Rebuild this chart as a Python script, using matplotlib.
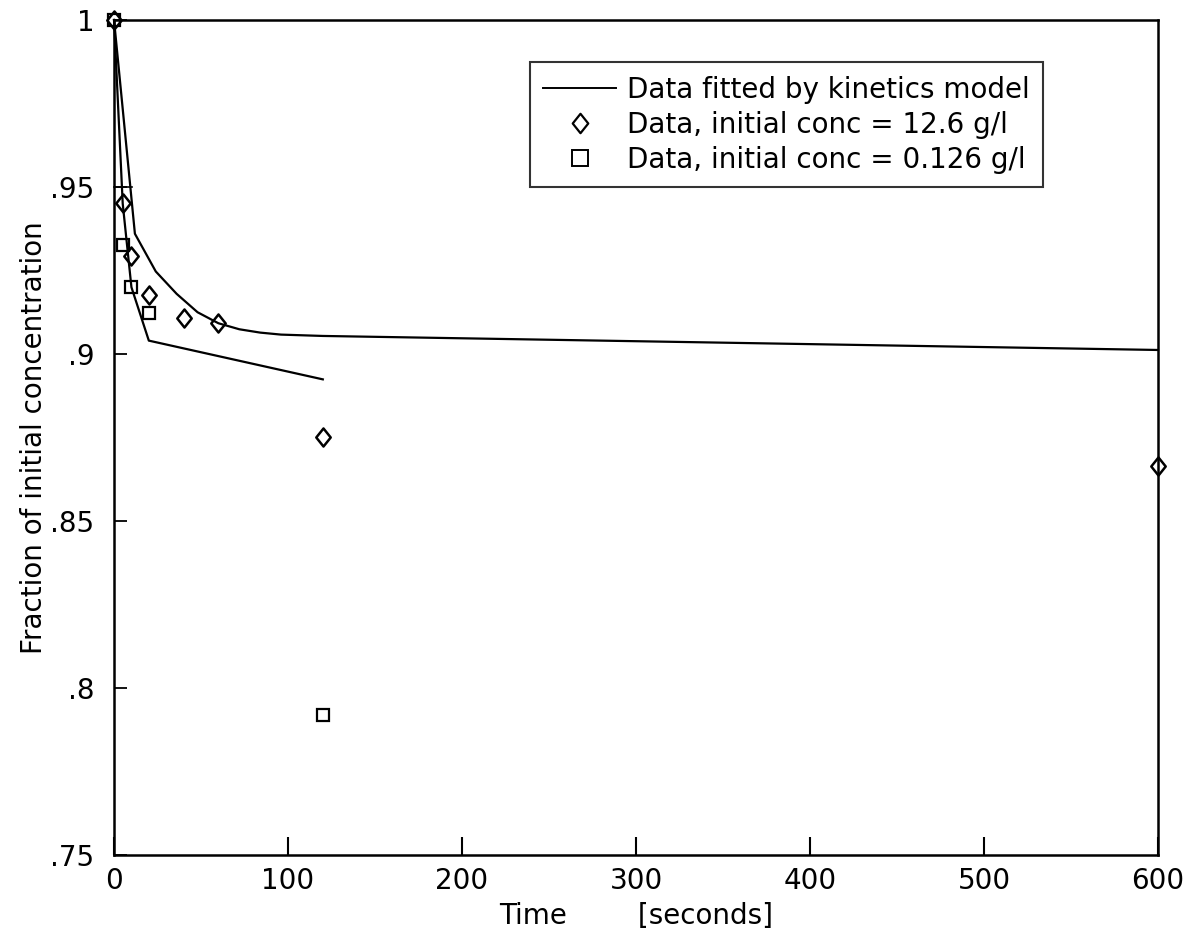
import matplotlib
matplotlib.use("Agg")
import matplotlib.pyplot as plt
from matplotlib.lines import Line2D
from matplotlib.path import Path

# ---- data ----
fit_hi_t = [0, 12, 24, 36, 48, 60, 72, 84, 96, 120, 600]
fit_hi_y = [1.0, 0.936, 0.9247, 0.918, 0.9125, 0.9092, 0.9074, 0.9064, 0.9058, 0.9054, 0.9012]
fit_lo_t = [0, 5, 10, 20, 120]
fit_lo_y = [1.0, 0.945, 0.920, 0.904, 0.8924]
seg_t = [0, 10.5]
seg_y = [0.95, 0.95]
dia_t = [0, 5, 10, 20, 40, 60, 120, 600]
dia_y = [1.0, 0.9451, 0.9293, 0.9177, 0.9107, 0.9092, 0.8751, 0.8665]
sq_t = [0, 5, 10, 20, 120]
sq_y = [1.0, 0.9326, 0.9202, 0.9122, 0.7919]
xticks = [0, 100, 200, 300, 400, 500, 600]
yticks = [0.75, 0.8, 0.85, 0.9, 0.95, 1.0]
ytick_labels = [".75", ".8", ".85", ".9", ".95", "1"]
legend_labels = ["Data fitted by kinetics model",
                 "Data, initial conc = 12.6 g/l",
                 "Data, initial conc = 0.126 g/l"]

plt.rcParams['font.family'] = ['DejaVu Sans']
fig = plt.figure(figsize=(11.99, 9.38), dpi=100)
ax = fig.add_axes([0.0951, 0.0885, 0.8707, 0.8902])

diamond = Path([(0, 1), (0.8, 0), (0, -1), (-0.8, 0), (0, 1)],
               [Path.MOVETO, Path.LINETO, Path.LINETO, Path.LINETO, Path.CLOSEPOLY])

FS = 20
lw = 1.6
ax.plot(fit_hi_t, fit_hi_y, color='black', lw=lw, clip_on=False)
ax.plot(fit_lo_t, fit_lo_y, color='black', lw=lw, clip_on=False)
ax.plot(seg_t, seg_y, color='black', lw=1.2, clip_on=False)
ax.plot(dia_t, dia_y, linestyle='none', marker=diamond, markersize=13,
        markerfacecolor='none', markeredgecolor='black', markeredgewidth=1.8, clip_on=False)
ax.plot(sq_t, sq_y, linestyle='none', marker='s', markersize=9,
        markerfacecolor='none', markeredgecolor='black', markeredgewidth=1.6, clip_on=False)

ax.set_xlim(0, 600)
ax.set_ylim(0.75, 1.0)
ax.set_xticks(xticks)
ax.set_xticklabels([str(v) for v in xticks])
ax.set_yticks(yticks)
ax.set_yticklabels(ytick_labels)
ax.tick_params(axis='x', direction='in', length=13, width=1.5, labelsize=FS, pad=9)
ax.tick_params(axis='y', direction='in', length=9, width=1.3, labelsize=FS, pad=14)
for s in ax.spines.values():
    s.set_linewidth(1.8)

ax.set_xlabel("Time        [seconds]", fontsize=FS, labelpad=5)
ax.set_ylabel("Fraction of initial concentration", fontsize=FS, labelpad=2)

handles = [
    Line2D([], [], color='black', lw=1.4),
    Line2D([], [], linestyle='none', marker=diamond, markersize=14, markerfacecolor='none',
           markeredgecolor='black', markeredgewidth=1.6),
    Line2D([], [], linestyle='none', marker='s', markersize=11, markerfacecolor='none',
           markeredgecolor='black', markeredgewidth=1.4),
]
leg = ax.legend(handles, legend_labels, loc='upper left', bbox_to_anchor=(0.398, 0.950),
                fontsize=FS, frameon=True, fancybox=False, edgecolor='black',
                handlelength=2.6, handletextpad=0.4, borderpad=0.5, labelspacing=0.25,
                borderaxespad=0)
leg.get_frame().set_linewidth(1.5)

fig.savefig("out.png", dpi=100, facecolor='white')
